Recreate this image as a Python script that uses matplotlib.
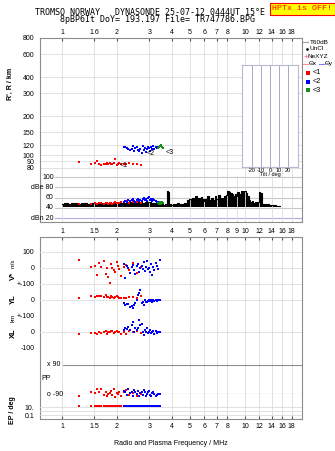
import numpy as np
import matplotlib
matplotlib.use('Agg')
from matplotlib import pyplot as plt
from matplotlib.lines import Line2D
from matplotlib.ticker import FixedLocator, NullLocator
import matplotlib.transforms as mtrans

# figure size in pixels
W, H = 335, 451

# --- frequency axis ticks (MHz) ---
top_ticks = [1, 1.5, 2, 3, 4, 5, 6, 7, 8, 10, 12, 14, 16, 18]
top_labels = ['1', '1.6', '2', '3', '4', '5', '6', '7', '8', '10', '12', '14', '16', '18']
mid_ticks = [1, 1.5, 2, 3, 4, 5, 6, 7, 8, 9, 10, 12, 14, 16, 18]
mid_labels = ['1', '1.5', '2', '3', '4', '5', '6', '7', '8', '9', '10', '12', '14', '16', '18']
bot_ticks = [1, 1.5, 2, 3, 4, 5, 6, 7, 8, 10, 12, 14, 16, 18]
bot_labels = ['1', '1.5', '2', '3', '4', '5', '6', '7', '8', '10', '12', '14', '16', '18']
range_ticks = [80, 90, 100, 120, 150, 200, 300, 400, 600, 800]
db_ticks = [20, 40, 60, 80, 100]
db_labels = ['dBn 20', '40', '60', 'dBe 80', '100']
tilt_ticks = [-20, -10, 0, 10, 20]

# --- echo amplitude trace (black) ---
amp_freq = [1.00, 1.05, 1.10, 1.15, 1.20, 1.25, 1.30, 1.35, 1.40, 1.45, 1.50,
            1.55, 1.60, 1.65, 1.70, 1.75, 1.80, 1.85, 1.90, 1.95, 2.00,
            2.1, 2.2, 2.3, 2.4, 2.5, 2.6, 2.7, 2.8, 2.9, 3.0, 3.1, 3.2, 3.3, 3.4, 3.5, 3.6, 3.7,
            3.78, 3.82, 3.90, 4.00, 4.10, 4.20, 4.30, 4.40, 4.50, 4.60, 4.70, 4.80, 4.90, 5.00,
            5.1, 5.2, 5.3, 5.4, 5.5, 5.6, 5.7, 5.8, 5.9, 6.0,
            6.15, 6.30, 6.45, 6.60, 6.75, 6.90, 7.05, 7.20, 7.35, 7.50, 7.65, 7.80, 7.95, 8.10,
            8.25, 8.40, 8.55, 8.70, 8.85, 9.00,
            9.2, 9.4, 9.6, 9.8, 10.0, 10.2, 10.4, 10.6, 10.8, 11.0, 11.2, 11.4, 11.6, 11.8, 12.0, 12.2,
            12.5, 12.8, 13.1, 13.4, 13.7, 14.0, 14.3, 14.6, 14.9, 15.2, 15.5]
amp_db = [48, 49, 47, 50, 49, 48, 50, 49, 47, 50, 49,
          48, 50, 49, 48, 49, 50, 48, 49, 50, 49,
          50, 49, 50, 51, 50, 51, 52, 50, 51, 52, 50, 49, 50, 48, 47, 46, 47,
          72, 70, 47, 46, 48, 47, 49, 47, 46, 48, 50, 49, 55, 58,
          54, 60, 57, 62, 56, 60, 55, 61, 57, 54,
          58, 63, 56, 60, 55, 62, 58, 64, 57, 60, 55, 62, 65, 72,
          70, 68, 66, 62, 67, 63,
          70, 66, 73, 71, 72, 68, 62, 55, 52, 54, 50, 52, 49, 51, 70, 68,
          48, 47, 46, 47, 45, 46, 44, 45, 44, 44, 43]

# --- trace <1 (red) ---
red_f = [1.24, 1.44, 1.51, 1.56, 1.60, 1.64, 1.69, 1.73, 1.76, 1.79, 1.82, 1.85, 1.88,
         1.92, 1.96, 1.99, 2.02, 2.06, 2.11, 2.17, 2.24, 2.33, 2.45, 2.58, 2.70]
red_r = [89, 86, 87, 90, 86, 85, 86, 86, 87, 86, 88, 86, 86,
         87, 93, 85, 86, 87, 86, 86, 86, 87, 86, 86, 85]
red_amp = [47, 48, 49, 48, 50, 49, 48, 50, 49, 48, 50, 49, 48,
           50, 51, 49, 50, 49, 52, 51, 53, 50, 52, 51, 50]
red_v = [50, 4, 12, -44, 29, 8, 44, -40, -2, -58, -96, 23, 0,
         -12, -25, 35, 10, -5, -48, 5, 20, -15, 30, -30, 8]
red_yl = [10, 27, 20, 24, 28, 22, 18, 30, 20, 18, 14, 22, 20,
          15, 18, 22, 18, 12, 10, 15, 12, 18, 16, 10, 24]
red_xl = [-15, -8, -8, -12, -2, -8, 0, 5, -10, 0, 3, 8, 5,
          -8, -2, 8, 0, 3, -12, 3, -10, 8, -3, 5, -5]
red_pp = [-100, -80, -85, -60, -80, -58, -95, -80, -105, -92, -85, -70, -95,
          -60, -110, -85, -90, -75, -100, -80, -65, -95, -85, -100, -90]
red_ep = [20, 22, 21, 20, 23, 21, 20, 22, 19, 21, 20, 23, 22,
          20, 21, 22, 20, 19, 21, 22, 20, 21, 23, 20, 21]

# --- trace <2 (blue) ---
blue_f = [2.18, 2.22, 2.26, 2.30, 2.35, 2.40, 2.44, 2.48, 2.52, 2.56, 2.60, 2.64, 2.68, 2.72, 2.76,
          2.80, 2.84, 2.88, 2.92, 2.96, 3.00, 3.04, 3.08, 3.12, 3.16, 3.20, 3.25, 3.30, 3.36, 3.42]
blue_r = [116, 115, 113, 111, 110, 112, 118, 109, 113, 117, 110, 108, 112, 105, 118,
          110, 114, 107, 111, 116, 113, 109, 115, 111, 118, 112, 116, 114, 117, 119]
blue_amp = [52, 54, 51, 55, 53, 56, 58, 54, 52, 55, 57, 53, 56, 54, 58,
            60, 55, 57, 53, 59, 61, 56, 58, 54, 57, 55, 53, 52, 51, 50]
blue_v = [23, -64, 10, 0, -30, 5, 20, -10, -40, 12, 28, -22, 0, 15, -5,
          35, -20, 8, 45, -8, 0, -28, 22, -45, 5, -15, 30, 12, -6, 48]
blue_yl = [-21, -31, -27, -24, -42, -35, -52, -31, -20, 0, 31, 42, 62, -21, -10,
           -31, 0, -15, -10, -5, 0, -8, -3, -12, 0, -6, 2, -4, 0, 3]
blue_xl = [12, 23, 19, 34, 10, 44, 60, 2, 23, 12, 28, 75, 44, 50, 2,
           -19, 12, 2, 23, -8, 2, 12, -8, 0, 5, -10, 8, -5, 3, 0]
blue_pp = [-70, -80, -95, -60, -85, -75, -100, -65, -80, -90, -70, -105, -85, -75, -95,
           -65, -80, -100, -90, -75, -70, -95, -105, -85, -80, -90, -100, -95, -88, -92]
blue_ep = [18, 20, 22, 19, 21, 17, 20, 23, 19, 21, 20, 18, 22, 19, 21,
           20, 18, 22, 19, 21, 20, 17, 19, 22, 18, 21, 20, 19, 18, 20]

# --- trace <3 (green) ---
green_f = [3.36, 3.40, 3.44, 3.48, 3.52, 3.56]
green_r = [113, 116, 118, 121, 117, 114]
green_amp = [50, 48, 52, 47, 51, 49]

# trace label positions (freq, km)
tag_names = ['<1', '<2', '<3']
tag_f = [2.07, 2.91, 3.70]
tag_r = [84, 104, 105]

RED, BLUE, GREEN = '#ff0000', '#0000ff', '#1a8c1a'
FRAME = '#8c8c8c'
GRID = '#dcdcdc'
FLIM = (0.758, 20.5)
FS = 5.0
TXT = dict(family='Liberation Sans', color='k')


def rect(x0, y0, x1, y1):
    return [x0 / W, 1 - y1 / H, (x1 - x0) / W, (y1 - y0) / H]


def fx(x):
    return x / W


def fy(y):
    return 1 - y / H


def freq_axis(ax, ticks, labels=None):
    ax.set_xscale('log')
    ax.set_xlim(FLIM)
    ax.xaxis.set_major_locator(FixedLocator(ticks))
    ax.xaxis.set_minor_locator(NullLocator())
    if labels is None:
        ax.set_xticklabels([])
    else:
        ax.set_xticklabels(labels)


def style_spines(ax, hide=()):
    for k, s in ax.spines.items():
        s.set_color(FRAME)
        s.set_linewidth(0.8)
        if k in hide:
            s.set_visible(False)


plt.rcParams['font.family'] = 'Liberation Sans'
fig = plt.figure(figsize=(W / 100, H / 100), dpi=100)

# ---------------- range panel ----------------
axR = fig.add_axes(rect(40, 38, 302, 176))
freq_axis(axR, top_ticks, top_labels)
axR.xaxis.tick_top()
axR.set_yscale('log')
axR.set_ylim(69.4, 800)
axR.yaxis.set_major_locator(FixedLocator(range_ticks))
axR.yaxis.set_minor_locator(NullLocator())
axR.set_yticklabels([str(v) for v in range_ticks])
axR.tick_params(axis='x', direction='in', length=2.5, width=0.8, color='#555555',
                pad=1.5, labelsize=FS)
axR.tick_params(axis='y', length=0, pad=4, labelsize=FS)
axR.grid(True, color=GRID, lw=0.6)
style_spines(axR, hide=('bottom',))
axR.set_ylabel("R', R / km", fontsize=FS, fontweight='bold')
axR.yaxis.set_label_coords(-0.1, 0.67)

axR.plot(red_f, red_r, 's', ms=1.6, mew=0, color=RED)
axR.plot(blue_f, blue_r, 's', ms=1.8, mew=0, color=BLUE)
axR.plot(green_f, green_r, 's', ms=1.8, mew=0, color=GREEN)
for name, tf, tr in zip(tag_names, tag_f, tag_r):
    axR.text(tf, tr, name, fontsize=FS, ha='left', va='center', **TXT)

# tilt inset
axT = fig.add_axes(rect(242, 65, 298, 167), facecolor='white')
axT.set_xlim(-31, 31)
axT.set_xticks(tilt_ticks)
axT.set_xticklabels([str(v) for v in tilt_ticks])
axT.set_yticks([])
axT.tick_params(axis='x', length=0, pad=0.8, labelsize=4.0)
axT.grid(True, axis='x', color='#a8a8c8', lw=0.7)
for s in axT.spines.values():
    s.set_color('#b8b8d0')
    s.set_linewidth(0.8)
fig.text(fx(270), fy(175), 'Tilt / deg', fontsize=4.0, ha='center', va='center', **TXT)

# ---------------- amplitude panel ----------------
axA = fig.add_axes(rect(40, 176, 302, 222))
freq_axis(axA, mid_ticks, mid_labels)
axA.set_ylim(12.2, 102)
axA.set_yticks([])
axA.tick_params(axis='x', length=0, pad=4.5, labelsize=FS)
axA.grid(True, axis='x', color=GRID, lw=0.6)
style_spines(axA, hide=('top',))
gx0 = (55 - 40) / 262
yt = mtrans.blended_transform_factory(axA.transAxes, axA.transData)
for v, lab in zip(db_ticks, db_labels):
    col = '#b0b0e8' if v == 20 else '#c8c8c8'
    axA.axhline(v, xmin=gx0, color=col, lw=0.8, zorder=0.5)
    axA.text(gx0 - 0.005, v, lab, transform=yt, fontsize=FS, ha='right', va='center', **TXT)

axA.fill_between(amp_freq, 42, amp_db, step='mid', color='k', lw=0)
axA.plot(amp_freq, amp_db, '-', color='k', lw=0.8, drawstyle='steps-mid')
axA.plot(red_f, red_amp, 's', ms=1.6, mew=0, color=RED)
axA.plot(blue_f, blue_amp, 's', ms=1.8, mew=0, color=BLUE)
axA.plot(green_f, green_amp, 's', ms=1.8, mew=0, color=GREEN)

# ---------------- lower frame ----------------
axB = fig.add_axes(rect(40, 237, 302, 419))
freq_axis(axB, bot_ticks, bot_labels)
axB.set_yticks([])
axB.tick_params(axis='x', which='major', direction='in', length=2.5, width=0.8,
                color='#555555', pad=3, labelsize=FS, top=True)
axB.grid(True, axis='x', color=GRID, lw=0.6)
style_spines(axB)
axB.set_xlabel('Radio and Plasma Frequency / MHz', fontsize=FS, labelpad=7, **TXT)


def row_axes(y0, y1, ylim, ticks, labels, pad=4, log=False):
    ax = fig.add_axes(rect(40, y0, 302, y1), facecolor='none')
    freq_axis(ax, bot_ticks)
    if log:
        ax.set_yscale('log')
    ax.set_ylim(ylim)
    ax.yaxis.set_major_locator(FixedLocator(ticks))
    ax.yaxis.set_minor_locator(NullLocator())
    ax.set_yticklabels(labels)
    ax.tick_params(axis='x', length=0)
    ax.tick_params(axis='y', length=0, pad=pad, labelsize=FS)
    ax.grid(True, axis='y', color=GRID, lw=0.6)
    for s in ax.spines.values():
        s.set_visible(False)
    return ax


axV = row_axes(244, 292, (-150, 150), [100, 0, -100], ['100', '0', '+-100'])
axY = row_axes(284, 316, (-100, 100), [0, -100], ['0', '+-100'])
axX = row_axes(316, 348, (-100, 100), [0, -100], ['0', '-100'])
axP = row_axes(365, 394, (-90, 90), [], [])
axE = row_axes(403, 419, (0.01, 100), [10, 1, 0.1], ['10.', '', '0.1'], log=True)

px0 = (63 - 40) / 262
axP.axhline(90, xmin=px0, color='#8c8c8c', lw=0.8)
axP.axhline(-90, xmin=px0, color='#8c8c8c', lw=0.8)
pt = mtrans.blended_transform_factory(axP.transAxes, axP.transData)
axP.text(0.026, 90, 'x 90', transform=pt, fontsize=FS, va='center', **TXT)
axP.text(0.026, -90, 'o -90', transform=pt, fontsize=FS, va='center', **TXT)

for ax, rv, bv in [(axV, red_v, blue_v), (axY, red_yl, blue_yl), (axX, red_xl, blue_xl),
                   (axP, red_pp, blue_pp), (axE, red_ep, blue_ep)]:
    ax.plot(red_f, rv, 's', ms=1.6, mew=0, color=RED, clip_on=False)
    ax.plot(blue_f, bv, 's', ms=1.8, mew=0, color=BLUE, clip_on=False)

# row titles
fig.text(fx(13), fy(276), 'V*', rotation=90, fontsize=5.5, fontweight='bold',
         ha='center', va='center', **TXT)
fig.text(fx(13), fy(263), 'm/s', rotation=90, fontsize=4.2, ha='center', va='center', **TXT)
fig.text(fx(13), fy(299), 'YL', rotation=90, fontsize=5.5, fontweight='bold',
         ha='center', va='center', **TXT)
fig.text(fx(13), fy(318), 'km', rotation=90, fontsize=4.5, ha='center', va='center', **TXT)
fig.text(fx(13), fy(333), 'XL', rotation=90, fontsize=5.5, fontweight='bold',
         ha='center', va='center', **TXT)
fig.text(fx(46), fy(378), 'PP', fontsize=FS, ha='center', va='center', **TXT)
fig.text(fx(12), fy(410), 'EP / deg', rotation=90, fontsize=FS, fontweight='bold',
         ha='center', va='center', **TXT)

# ---------------- header ----------------
fig.text(fx(150), fy(12.5), 'TROMSO NORWAY   DYNASONDE 25-07-12 0444UT 15°E',
         family='DejaVu Sans Mono', fontsize=6.0, ha='center', va='center')
fig.text(fx(157), fy(20), '8pBP6It DoY= 193.197 File= TR747786.BPG',
         family='DejaVu Sans Mono', fontsize=6.0, ha='center', va='center')
fig.text(fx(302.5), fy(9), 'HPTx is OFF!', family='Liberation Mono', fontsize=6.0,
         color='red', ha='center', va='center',
         bbox=dict(boxstyle='square,pad=0.25', facecolor='#ffff00', edgecolor='red', lw=0.8))

# ---------------- legend ----------------
LFS = 4.6
fig.add_artist(Line2D([fx(303), fx(308)], [fy(42), fy(42)], color='#a0a0a0', lw=0.8))
fig.text(fx(309.5), fy(42), 'T60dB', fontsize=LFS, va='center', **TXT)
fig.add_artist(Line2D([fx(306.5)], [fy(49)], marker='o', ms=0.9, color='k', lw=0))
fig.text(fx(309.5), fy(49), 'UnCl', fontsize=LFS, va='center', **TXT)
fig.add_artist(Line2D([fx(305.5)], [fy(56)], marker='+', ms=3, mew=0.6, color='#ff80a0', lw=0))
fig.text(fx(308), fy(56), 'NeXYZ', fontsize=LFS, va='center', **TXT)
fig.add_artist(Line2D([fx(303), fx(308)], [fy(63.5), fy(63.5)], color='#ff9090', lw=0.8))
fig.text(fx(308.5), fy(63.5), 'Θx', fontsize=LFS, va='center', **TXT)
fig.add_artist(Line2D([fx(319), fx(324)], [fy(63.5), fy(63.5)], color='#8080ff', lw=0.8))
fig.text(fx(324.5), fy(63.5), 'Θy', fontsize=LFS, va='center', **TXT)
for yy, col, name in zip([73, 81.5, 90], [RED, BLUE, GREEN], tag_names):
    fig.add_artist(Line2D([fx(307.5)], [fy(yy)], marker='s', ms=2.2, mew=0, color=col, lw=0))
    fig.text(fx(313), fy(yy), name, fontsize=5.2, va='center', **TXT)

fig.savefig('out.png', dpi=100)
